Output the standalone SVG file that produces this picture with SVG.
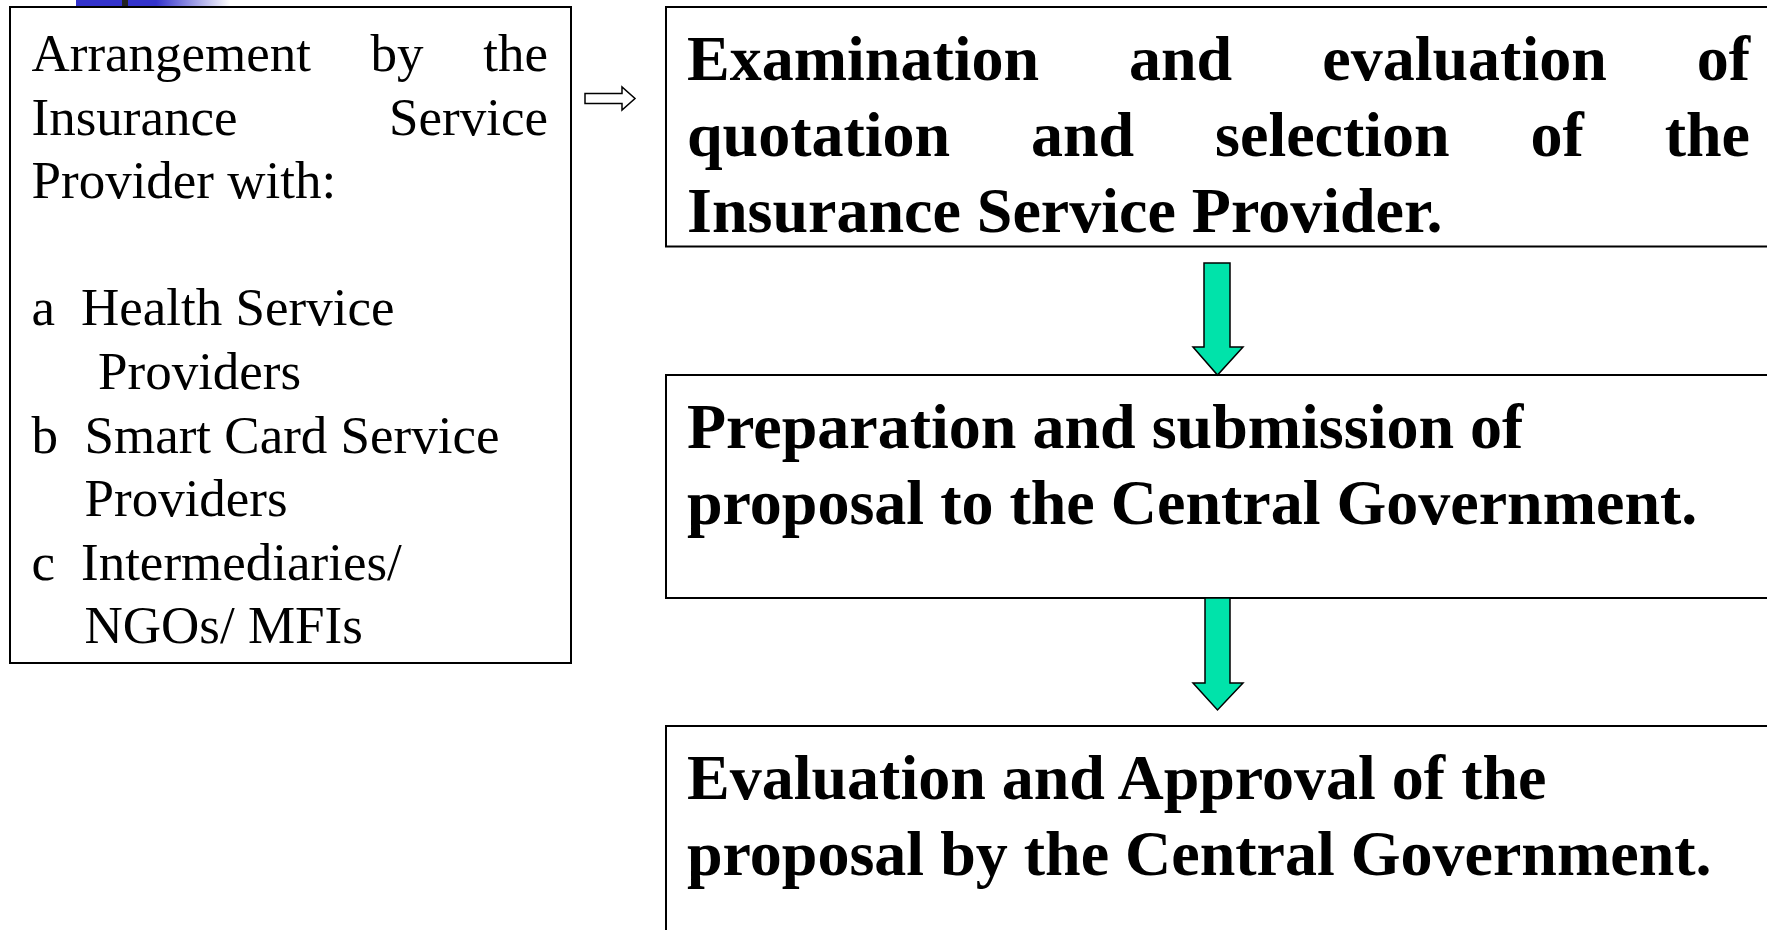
<svg xmlns="http://www.w3.org/2000/svg" width="1767" height="930" viewBox="0 0 1767 930">
  <defs>
    <linearGradient id="deco" x1="0" y1="0" x2="1" y2="0">
      <stop offset="0" stop-color="#3333cc"/>
      <stop offset="0.52" stop-color="#3333cc"/>
      <stop offset="1" stop-color="#ffffff"/>
    </linearGradient>
  </defs>
  <style>
    .box { fill: #ffffff; stroke: #000000; stroke-width: 2; }
    .reg { font-family: "Liberation Serif", "Times New Roman", serif; font-size: 53px; fill: #000000; }
    .bold { font-family: "Liberation Serif", "Times New Roman", serif; font-size: 64px; font-weight: bold; fill: #000000; }
    .green { fill: #00e3aa; stroke: #000000; stroke-width: 1.5; stroke-linejoin: miter; }
    .outline { fill: #ffffff; stroke: #000000; stroke-width: 1.5; }
  </style>
  <rect x="0" y="0" width="1767" height="930" fill="#ffffff"/>

  <!-- title decoration -->
  <g id="decoration">
    <rect x="76" y="0" width="154" height="7" fill="url(#deco)"/>
    <rect x="122" y="0" width="6" height="7" fill="#222222"/>
  </g>

  <g id="node-arrangement">
    <rect class="box" x="10" y="7" width="561" height="656"/>
    <text class="reg" y="71"><tspan x="31.5">Arrangement</tspan><tspan x="370.6">by</tspan><tspan x="548" text-anchor="end">the</tspan></text>
    <text class="reg" y="134.6"><tspan x="31.5">Insurance</tspan><tspan x="548" text-anchor="end">Service</tspan></text>
    <text class="reg" x="31.5" y="198.2">Provider with:</text>
    <text class="reg" y="325.4"><tspan x="31.5">a</tspan><tspan x="81">Health Service</tspan></text>
    <text class="reg" x="98" y="389">Providers</text>
    <text class="reg" y="452.6"><tspan x="31.5">b</tspan><tspan x="84.5">Smart Card Service</tspan></text>
    <text class="reg" x="84.5" y="516.2">Providers</text>
    <text class="reg" y="579.8"><tspan x="31.5">c</tspan><tspan x="81">Intermediaries/</tspan></text>
    <text class="reg" x="84.5" y="643.4">NGOs/ MFIs</text>
  </g>

  <g id="node-examination">
    <rect class="box" x="666" y="7" width="1120" height="239.5"/>
    <text class="bold" y="80"><tspan x="687">Examination</tspan><tspan x="1129">and</tspan><tspan x="1322.3">evaluation</tspan><tspan x="1750" text-anchor="end">of</tspan></text>
    <text class="bold" y="156"><tspan x="687">quotation</tspan><tspan x="1031">and</tspan><tspan x="1215.1">selection</tspan><tspan x="1530.5">of</tspan><tspan x="1750" text-anchor="end">the</tspan></text>
    <text class="bold" x="687" y="232">Insurance Service Provider.</text>
  </g>

  <g id="node-preparation">
    <rect class="box" x="666" y="375" width="1120" height="223"/>
    <text class="bold" x="687" y="448">Preparation and submission of</text>
    <text class="bold" x="687" y="524">proposal to the Central Government.</text>
  </g>

  <g id="node-approval">
    <rect class="box" x="666" y="726" width="1120" height="230"/>
    <text class="bold" x="687" y="799">Evaluation and Approval of the</text>
    <text class="bold" x="687" y="875">proposal by the Central Government.</text>
  </g>

  <g id="connectors">
    <polygon class="outline" points="585,93.5 622,93.5 622,87 635,98.5 622,110 622,103.5 585,103.5"/>
    <polygon class="green" points="1204,263 1230,263 1230,347 1243,347 1217.5,375 1193,347 1204,347"/>
    <polygon class="green" points="1205,598 1230,598 1230,683 1243,683 1217.5,710 1193,683 1205,683"/>
  </g>
</svg>
